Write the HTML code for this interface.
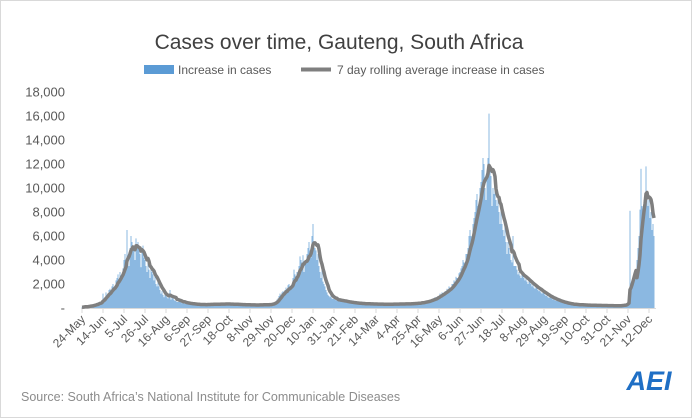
<!DOCTYPE html>
<html><head><meta charset="utf-8"><style>
body{margin:0;background:#fff}
#wrap{position:relative;width:690px;height:416px;border:1px solid #d9d9d9;background:#fff;font-family:"Liberation Sans",sans-serif}
svg{position:absolute;left:0;top:0}
</style></head><body>
<div id="wrap">
<svg id="chart" width="692" height="418">
<text x="338" y="48" text-anchor="middle" font-size="21" fill="#404040">Cases over time, Gauteng, South Africa</text>
<g>
<rect x="143" y="64" width="30" height="9" fill="#5B9BD5"/>
<text x="177" y="73" font-size="12" fill="#595959">Increase in cases</text>
<line x1="300" y1="68.5" x2="330" y2="68.5" stroke="#7f7f7f" stroke-width="4"/>
<text x="336" y="73" font-size="12" fill="#595959">7 day rolling average increase in cases</text>
</g>
<g id="yaxis"></g>
<g id="bars"></g>
<g id="xaxis"></g>
<path id="avg" fill="none" stroke="#7f7f7f" stroke-width="3.5" stroke-linejoin="round"/>
<text x="20" y="400" font-size="12.5" fill="#8c8c8c">Source: South Africa’s National Institute for Communicable Diseases</text>
<text x="648" y="389" font-size="27" font-weight="bold" font-style="italic" fill="#1f6fc5" text-anchor="middle">AEI</text>
</svg>
</div>
<script>
const tickLabels=["24-May","14-Jun","5-Jul","26-Jul","16-Aug","6-Sep","27-Sep","18-Oct","8-Nov","29-Nov","20-Dec","10-Jan","31-Jan","21-Feb","14-Mar","4-Apr","25-Apr","16-May","6-Jun","27-Jun","18-Jul","8-Aug","29-Aug","19-Sep","10-Oct","31-Oct","21-Nov","12-Dec"];
const yTicks=[0,2000,4000,6000,8000,10000,12000,14000,16000,18000];
const cases=[
60,80,120,150,100,90,140, 180,200,250,220,170,260,300, 350,420,380,500,450,400,600,
1200,800,900,1300,1100,1000,1500, 1600,1400,1800,2000,1700,1500,2300, 2500,2800,2400,3000,2700,2600,3300,
4000,4500,3800,6500,4300,3500,5000, 6000,5500,4800,5200,4000,5800,5000, 5500,5000,4500,3400,4800,5200,4200,
4000,3500,3000,4200,3200,2500,3600, 3000,2800,2300,2600,2000,1800,2400, 1800,1500,1200,1400,1100,900,1300,
1000,900,800,1100,1500,700,900, 800,700,600,900,500,500,700, 600,500,400,550,450,350,500, 400,380,300,420,350,280,400,
330,300,260,340,290,250,320, 300,280,250,330,290,240,310, 320,300,270,350,300,260,330, 340,320,290,370,310,280,350,
350,330,300,380,320,290,360, 340,320,290,360,300,270,330, 320,300,260,330,280,250,300, 290,270,240,300,260,230,280,
270,250,220,290,250,220,270, 260,250,230,300,260,240,290, 280,270,250,320,280,260,310,
300,350,400,450,500,550,700, 800,1000,1200,1100,1300,1400,1200, 1500,1700,1400,1900,2000,1600,1800,
2000,2500,3200,2800,2400,3000,2600, 3500,4300,4000,3800,4400,3000,3600, 4000,4500,5000,5500,4800,4200,6000,
7000,5500,5000,4800,4000,4500,3500, 3000,2500,3200,2200,2000,1800,1500, 1300,1100,1000,900,1200,800,750,
800,700,650,750,600,550,700, 650,600,550,620,500,480,550, 500,480,450,520,420,400,460,
420,400,370,430,360,340,400, 380,360,330,390,330,310,370, 360,340,310,370,310,290,350, 350,330,300,360,300,280,340,
340,320,290,350,300,280,330, 340,330,300,360,310,290,340, 350,340,310,380,320,300,350, 350,350,320,390,330,310,370,
350,400,380,420,360,330,400, 400,450,420,500,460,400,480, 500,600,550,650,580,520,700, 700,800,750,900,850,750,1000,
1000,1200,1100,1300,1250,1100,1400, 1400,1600,1500,1800,1700,1500,2000, 2000,2300,2200,2600,2500,2200,2900,
3000,3300,3500,4000,3800,3300,4500, 4500,5000,6000,6500,6000,5200,7000, 7500,8000,9000,9500,8500,8000,10000,
10500,11500,12500,12000,10000,9000,11000, 12500,16200,11500,11000,8500,10000,9500, 10000,9000,8500,9500,8000,7000,8500,
7000,6500,6000,7500,5500,4500,5500, 5000,4500,4000,3800,6000,3500,3500, 3500,3200,2800,3000,2700,2500,2900,
2800,2500,2300,2600,2200,2000,2400, 2200,2000,1800,2000,1700,1600,1900, 1700,1500,1400,1600,1300,1200,1400,
1300,1100,1000,1200,900,850,1000, 900,800,700,850,650,600,700, 650,550,500,600,450,420,500, 450,400,350,420,330,300,350,
320,300,270,320,270,250,290, 280,260,240,280,240,220,260, 250,240,220,260,220,200,240, 230,220,200,240,210,190,220,
220,210,190,230,200,180,210, 210,200,180,220,190,180,200, 200,190,180,210,190,180,200,
200,220,250,300,280,250,400, 600,700,8100,1500,2000,2300,2500,
2800,2600,4000,5000,6000,8200,11600, 8500,8000,9000,9500,11800,9000,
8500,9000,7500,8000,6500,7000,6000];
const X0=81, Y0=307, YS=12/1000;
const xs=d=>X0+d;
const ys=v=>Y0-v*YS;
const NS="http://www.w3.org/2000/svg";
const yG=document.getElementById('yaxis'),bG=document.getElementById('bars'),xG=document.getElementById('xaxis');
yTicks.forEach(v=>{
 const t=document.createElementNS(NS,'text');
 
 
 t.setAttribute('x',64);t.setAttribute('y',ys(v)+4.5);t.setAttribute('text-anchor','end');
 t.setAttribute('font-size','13');t.setAttribute('fill','#595959');
 t.textContent=v===0?'-':v.toLocaleString('en-US');
 yG.appendChild(t);
});
cases.forEach((v,i)=>{
 const r=document.createElementNS(NS,'rect');
 
 
 r.setAttribute('x',xs(i)-0.35);r.setAttribute('width',0.7);
 r.setAttribute('y',ys(v));r.setAttribute('height',Y0-ys(v));
 r.setAttribute('fill','#5B9BD5');
 bG.appendChild(r);
});
const axl=document.createElementNS(NS,'line');


axl.setAttribute('x1',X0-1);axl.setAttribute('x2',xs(cases.length)+1);axl.setAttribute('y1',Y0+0.5);axl.setAttribute('y2',Y0+0.5);
axl.setAttribute('stroke','#d9d9d9');
xG.appendChild(axl);
tickLabels.forEach((lab,k)=>{
 const x=xs(k*21);
 const tk=document.createElementNS(NS,'line');
 
 
 tk.setAttribute('x1',x);tk.setAttribute('x2',x);tk.setAttribute('y1',Y0);tk.setAttribute('y2',Y0+5);
 tk.setAttribute('stroke','#d9d9d9');
 xG.appendChild(tk);
 const t=document.createElementNS(NS,'text');
 
 
 t.setAttribute('text-anchor','end');t.setAttribute('font-size','12');t.setAttribute('fill','#595959');
 t.setAttribute('transform','translate('+(x+4)+','+(Y0+12)+') rotate(-45)');
 t.textContent=lab;
 xG.appendChild(t);
});
let d='';
cases.forEach((v,i)=>{
 const s=Math.max(0,i-6);let sum=0;for(let j=s;j<=i;j++)sum+=cases[j];
 const a=sum/(i-s+1);
 d+=(i?'L':'M')+xs(i).toFixed(1)+','+ys(a).toFixed(1);
});
document.getElementById('avg').setAttribute('d',d);
</script>
</body></html>
